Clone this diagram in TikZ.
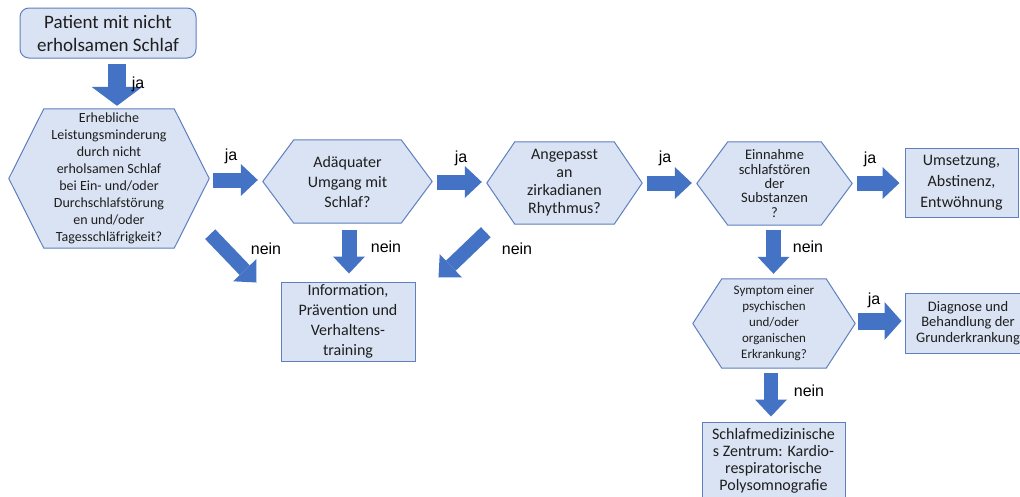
\documentclass[tikz,border=0pt]{standalone}
\usepackage{fontspec}
\setmainfont{Carlito}
\newfontfamily\arialf{Liberation Sans}
\usetikzlibrary{arrows.meta,calc,backgrounds}
\definecolor{boxfill}{RGB}{218,227,243}
\definecolor{boxline}{RGB}{95,128,190}
\definecolor{arrowblue}{RGB}{68,114,196}
\definecolor{txt}{RGB}{30,30,30}
\tikzset{
  base/.style={align=center, inner sep=0pt, text=txt},
  boxnode/.style={base, draw=boxline, fill=boxfill, line width=1pt},
  hexnode/.style={base},
  hexline/.style={draw=boxline, fill=boxfill, line width=1pt, line join=round},
  barrow/.style={draw=arrowblue, line width=15pt, -{Triangle[width=32pt,length=17pt,line width=0pt]}},
  lab/.style={font=\arialf\fontsize{16}{16}\selectfont, text=black, inner sep=0pt},
}
\newcommand\hexpath[2]{\draw[hexline] (#1.west) -- ([xshift=#2]#1.north west) -- ([xshift=-#2]#1.north east) -- (#1.east) -- ([xshift=-#2]#1.south east) -- ([xshift=#2]#1.south west) -- cycle;}
\begin{document}
\begin{tikzpicture}[x=1pt,y=-1pt]
\useasboundingbox (0,0) rectangle (1020,496);
\clip (0,0) rectangle (1020,496);

% top box
\node[boxnode, rounded corners=9pt, minimum width=176pt, minimum height=50pt,
  font=\fontsize{19}{23}\selectfont] (top) at (108,33) {Patient mit nicht\\erholsamen Schlaf};

% hexagons
\node[hexnode, minimum width=200pt, minimum height=139pt, font=\fontsize{14}{17}\selectfont] (hex1) at (109,178.5)
  {Erhebliche\\Leistungsminderung\\durch nicht\\erholsamen Schlaf\\bei Ein- und/oder\\Durchschlafstörung\\en und/oder\\Tagesschläfrigkeit?};
\node[hexnode, minimum width=169pt, minimum height=83pt, font=\fontsize{16}{20}\selectfont] (hex2) at (347.5,181.5)
  {Adäquater\\Umgang mit\\Schlaf?};
\node[hexnode, minimum width=155pt, minimum height=82pt, font=\fontsize{16}{18}\selectfont] (hex3) at (564.5,183)
  {Angepasst\\an\\zirkadianen\\Rhythmus?};
\node[hexnode, minimum width=155pt, minimum height=83pt, font=\fontsize{14.5}{14.3}\selectfont] (hex4) at (774.5,183.5)
  {Einnahme\\schlafstören\\der\\Substanzen\\?};
\node[hexnode, minimum width=162pt, minimum height=89pt, font=\fontsize{13}{16}\selectfont] (hex5) at (774,323.5)
  {Symptom einer\\psychischen\\und/oder\\organischen\\Erkrankung?};
\begin{scope}[on background layer]
  \fill[white] (0,0) rectangle (1020,496);
  \hexpath{hex1}{35pt}
  \hexpath{hex2}{31pt}
  \hexpath{hex3}{28pt}
  \hexpath{hex4}{31pt}
  \hexpath{hex5}{29pt}
\end{scope}

% boxes
\node[boxnode, minimum width=134pt, minimum height=79pt, font=\fontsize{16}{20}\selectfont] (info) at (348,321.5)
  {Information,\\Prävention und\\Verhaltens-\\training};
\node[boxnode, minimum width=113pt, minimum height=69pt, font=\fontsize{16}{21}\selectfont] (ums) at (961.5,182.5)
  {Umsetzung,\\Abstinenz,\\Entwöhnung};
\node[boxnode, minimum width=126pt, minimum height=60pt, font=\fontsize{14.5}{15.5}\selectfont] (diag) at (968,323)
  {Diagnose und\\Behandlung der\\Grunderkrankung};
\node[boxnode, minimum width=143pt, minimum height=78pt, font=\fontsize{16}{17}\selectfont] (schlaf) at (773.5,461)
  {Schlafmedizinische\\s Zentrum: Kardio-\\respiratorische\\Polysomnografie};

% block arrows
\draw[barrow, line width=18pt, -{Triangle[width=51pt,length=19pt,line width=0pt]}] ($(top.south)+(9,5)$) -- ($(hex1.north)+(8,-3)$);
\draw[barrow] ($(hex1.east)+(4,1.5)$) -- ($(hex2.west)+(-5,-1.5)$);
\draw[barrow] ($(hex2.east)+(5,0.5)$) -- ($(hex3.west)+(-5,-1)$);
\draw[barrow] ($(hex3.east)+(5,0)$) -- ($(hex4.west)+(-5,-0.5)$);
\draw[barrow] ($(hex4.east)+(5,-0.5)$) -- ($(ums.west)+(-5,0.5)$);
\draw[barrow, line width=17pt, -{Triangle[width=38pt,length=17pt,line width=0pt]}] ($(hex5.east)+(3,-2.5)$) -- ($(diag.west)+(-3,-2)$);
\draw[barrow] ($(hex4.south)+(-1,5)$) -- ($(hex5.north)+(-0.5,-5)$);
\draw[barrow, line width=14pt] ($(hex5.south)+(-3,5)$) -- ($(schlaf.north)+(-2.5,-5)$);
\draw[barrow] ($(hex2.south)+(1.5,7)$) -- ($(info.north)+(1,-8)$);
\draw[barrow, line width=14pt] ($(hex1.south east)+(1,-14)$) -- ($(info.north west)+(-24,1)$);
\draw[barrow, line width=14pt] ($(hex3.south west)+(-1,8)$) -- ($(info.north east)+(23,-4)$);

% labels
\node[lab] (ja0) at (138,84) {ja};
\node[lab] (ja1) at (231,156) {ja};
\node[lab] (ja2) at (461,158.5) {ja};
\node[lab] (ja3) at (665,158) {ja};
\node[lab] (ja4) at (870,159) {ja};
\node[lab] (ja5) at (874,300) {ja};
\node[lab] (nein1) at (266,249) {nein};
\node[lab] (nein2) at (386,247) {nein};
\node[lab] (nein3) at (517,249) {nein};
\node[lab] (nein4) at (808,247) {nein};
\node[lab] (nein5) at (809,390.5) {nein};
\end{tikzpicture}
\end{document}
